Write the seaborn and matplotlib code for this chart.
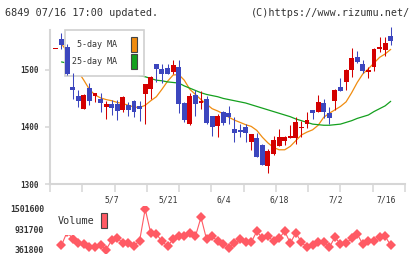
"""
Candlestick chart of 6849 with 5/25-day moving averages and volume
"""

import numpy as np
import pandas as pd
import matplotlib
matplotlib.use("Agg")
import matplotlib.pyplot as plt
from matplotlib.patches import Patch
import seaborn as sns

# Data
dates = ["4/12", "4/15", "4/16", "4/17", "4/18", "4/19", "4/22", "4/23", "4/24", "4/25",
         "4/26", "5/7", "5/8", "5/9", "5/10", "5/13", "5/14", "5/15", "5/16", "5/17",
         "5/20", "5/21", "5/22", "5/23", "5/24", "5/27", "5/28", "5/29", "5/30", "5/31",
         "6/3", "6/4", "6/5", "6/6", "6/7", "6/10", "6/11", "6/12", "6/13", "6/14",
         "6/17", "6/18", "6/19", "6/20", "6/21", "6/24", "6/25", "6/26", "6/27", "6/28",
         "7/1", "7/2", "7/3", "7/4", "7/5", "7/8", "7/9", "7/10", "7/11", "7/12", "7/16"]

opens = [1537, 1555, 1541, 1470, 1454, 1432, 1469, 1455, 1449, 1435,
         1441, 1441, 1429, 1438, 1446, 1436, 1458, 1467, 1511, 1502,
         1504, 1496, 1505, 1442, 1406, 1456, 1442, 1449, 1419, 1402,
         1427, 1424, 1397, 1395, 1400, 1373, 1381, 1369, 1332, 1353,
         1367, 1376, 1380, 1381, 1398, 1406, 1429, 1426, 1442, 1424,
         1446, 1470, 1479, 1499, 1523, 1511, 1497, 1505, 1537, 1535, 1560]
highs = [1537, 1564, 1546, 1495, 1465, 1458, 1477, 1459, 1459, 1446,
         1448, 1448, 1454, 1443, 1448, 1446, 1476, 1490, 1511, 1511,
         1511, 1517, 1518, 1443, 1460, 1464, 1463, 1455, 1420, 1422,
         1428, 1437, 1417, 1405, 1405, 1387, 1390, 1371, 1362, 1384,
         1396, 1384, 1403, 1418, 1411, 1427, 1429, 1456, 1449, 1435,
         1466, 1486, 1501, 1539, 1534, 1518, 1505, 1539, 1557, 1557, 1575]
lows = [1537, 1536, 1491, 1449, 1435, 1431, 1438, 1443, 1427, 1414,
        1421, 1413, 1427, 1419, 1418, 1411, 1405, 1449, 1478, 1477,
        1492, 1493, 1424, 1408, 1404, 1419, 1432, 1406, 1385, 1383,
        1403, 1405, 1373, 1383, 1373, 1360, 1348, 1334, 1320, 1350,
        1367, 1368, 1380, 1371, 1382, 1398, 1414, 1426, 1415, 1406,
        1430, 1463, 1465, 1488, 1513, 1495, 1486, 1498, 1532, 1525, 1544]
closes = [1537, 1544, 1493, 1465, 1446, 1456, 1445, 1459, 1442, 1441,
          1433, 1428, 1452, 1429, 1427, 1432, 1476, 1488, 1501, 1493,
          1492, 1509, 1440, 1413, 1454, 1440, 1445, 1407, 1400, 1420,
          1407, 1417, 1390, 1392, 1390, 1387, 1348, 1334, 1357, 1378,
          1383, 1383, 1385, 1408, 1400, 1413, 1424, 1443, 1426, 1415,
          1465, 1463, 1500, 1521, 1514, 1498, 1499, 1537, 1541, 1548, 1551]

ma5 = [np.nan, 1546, 1532, 1515, 1497, 1482, 1466, 1456, 1451, 1448, 1446,
       1443, 1441, 1438, 1435, 1434, 1438, 1446, 1453, 1466, 1480,
       1491, 1492, 1482, 1466, 1457, 1448, 1440, 1432, 1428, 1423,
       1417, 1412, 1408, 1404, 1401, 1394, 1382, 1372, 1364, 1360,
       1360, 1366, 1376, 1386, 1391, 1395, 1403, 1417, 1424, 1430,
       1436, 1444, 1460, 1478, 1493, 1502, 1512, 1522, 1528, 1536]
ma25 = [np.nan, 1514, 1512, 1510, 1508, 1506, 1504, 1502, 1500, 1498, 1497,
        1495, 1494, 1492, 1491, 1490, 1488, 1485, 1482, 1481, 1479,
        1478, 1477, 1472, 1468, 1464, 1460, 1457, 1455, 1453, 1450,
        1448, 1446, 1444, 1442, 1439, 1436, 1433, 1430, 1427, 1424,
        1421, 1418, 1414, 1411, 1408, 1405, 1404, 1403, 1403, 1404,
        1405, 1408, 1411, 1415, 1418, 1421, 1427, 1432, 1437, 1445]

volume = [np.nan, 480000, 854000, 666000, 545000, 517000, 424000, 441000, 480000, 361800, 621000,
          685000, 545000, 545000, 469000, 609000, 1501600, 818000, 798000, 593000, 452000,
          649000, 733000, 733000, 818000, 733000, 1268000, 649000, 733000, 593000, 525000,
          404000, 536000, 649000, 564000, 564000, 874000, 677000, 733000, 593000, 677000,
          874000, 545000, 826000, 564000, 424000, 480000, 564000, 564000, 424000, 705000,
          517000, 536000, 677000, 798000, 508000, 593000, 593000, 705000, 733000, 480000]

label_dates = ["5/7", "5/21", "6/4", "6/18", "7/2", "7/16"]

# Style
sns.set_theme(style="ticks")
plt.rcParams["font.family"] = ["DejaVu Sans Mono"]

UP = "#d40000"
DOWN = "#3c46be"
ORANGE = "#f08c10"
GREEN = "#14a01e"
VOL = "#ff5a64"
AXIS = "#d6d6d6"
TXT = "#333333"

W, H = 420, 259
XLIM = (-1.06, 62.56)

df = pd.DataFrame({"date": dates, "open": opens, "high": highs, "low": lows,
                   "close": closes, "ma5": ma5, "ma25": ma25, "volume": volume})
df["x"] = np.arange(len(df))
up = df["close"] >= df["open"]
colors = np.where(up, UP, DOWN)

fig = plt.figure(figsize=(W / 100, H / 100), dpi=100)
ax = fig.add_axes([50 / W, 1 - 184 / H, 355 / W, 154 / H])
axv = fig.add_axes([50 / W, 1 - 253 / H, 355 / W, 47 / H])

# Moving averages
sns.lineplot(data=df, x="x", y="ma5", ax=ax, color=ORANGE, linewidth=0.9, zorder=2)
sns.lineplot(data=df, x="x", y="ma25", ax=ax, color=GREEN, linewidth=0.9, zorder=2)

# Candles
lo = np.minimum(df["open"], df["close"])
diff = (df["close"] - df["open"]).abs()
mid = (df["open"] + df["close"]) / 2
body_h = np.maximum(diff, 1.8)
body_bottom = np.where(diff < 1.8, mid - 0.9, lo)
ax.vlines(df["x"], df["low"], df["high"], colors=colors, linewidth=0.75,
          zorder=6, clip_on=False)
ax.bar(df["x"], body_h, bottom=body_bottom, width=0.88, color=colors,
       linewidth=0, zorder=7, clip_on=False)

ax.set_xlim(*XLIM)
ax.set_ylim(1300, 1570)
ax.set_xlabel("")
ax.set_ylabel("")
ax.set_xticks(np.linspace(XLIM[0], XLIM[1], 12))
ax.set_xticklabels([])
label_pos = [dates.index(d) - 0.9 for d in label_dates]
ax.set_xticks(label_pos, minor=True)
ax.set_xticklabels(label_dates, minor=True)
ax.tick_params(axis="x", which="major", length=6, width=1.1, color=AXIS, direction="out")
ax.tick_params(axis="x", which="minor", length=0, pad=8, labelsize=5.8, labelcolor=TXT)
ax.set_yticks([1300, 1400, 1500])
ax.tick_params(axis="y", length=3.6, width=1.1, color=AXIS, pad=4.5,
               labelsize=5.5, labelcolor=TXT)
for t in ax.get_yticklabels():
    t.set_fontweight("bold")
for s in ["top", "right"]:
    ax.spines[s].set_visible(False)
for s in ["left", "bottom"]:
    ax.spines[s].set_color(AXIS)
    ax.spines[s].set_linewidth(1.5)

leg = ax.legend(handles=[Patch(facecolor=ORANGE, edgecolor="#444444", linewidth=0.8, label="5-day MA"),
                         Patch(facecolor=GREEN, edgecolor="#444444", linewidth=0.8, label="25-day MA")],
                loc="upper left", bbox_to_anchor=(65 / W, 1 - 30 / H),
                bbox_transform=fig.transFigure, borderaxespad=0, markerfirst=False,
                fontsize=6, handlelength=0.72, handleheight=2.39, handletextpad=1.7,
                labelspacing=0.2, borderpad=0.85, fancybox=False, framealpha=1,
                edgecolor="#d0d0d0")
leg.get_frame().set_linewidth(1.2)
leg.set_zorder(5)
for t in leg.get_texts():
    t.set_color(TXT)

# Volume
sns.lineplot(data=df, x="x", y="volume", ax=axv, color=VOL, linewidth=0.8,
             marker="D", markersize=4.8, markeredgewidth=0, zorder=2)
vmin, vmax = np.nanmin(volume), np.nanmax(volume)
step = (vmax - vmin) / 40.5
axv.set_xlim(*XLIM)
axv.set_ylim(vmin - 3.5 * step, vmax + 3 * step)
axv.set_xlabel("")
axv.set_ylabel("")
axv.set_xticks([])
vt = [vmin, (vmin + vmax) / 2, vmax]
axv.set_yticks(vt)
axv.set_yticklabels([f"{v:.0f}" for v in vt])
axv.tick_params(axis="y", length=0, pad=4.3, labelsize=5.9, labelcolor=TXT)
for t in axv.get_yticklabels():
    t.set_fontweight("bold")
for s in axv.spines.values():
    s.set_visible(False)
axv.patch.set_alpha(0)

vleg = axv.legend(handles=[Patch(facecolor=VOL, edgecolor="#444444", linewidth=0.8, label="Volume")],
                  loc="upper left", bbox_to_anchor=(50.6 / W, 1 - 205.6 / H),
                  bbox_transform=fig.transFigure, borderaxespad=0, markerfirst=False,
                  fontsize=7.3, handlelength=0.55, handleheight=1.9, handletextpad=0.66,
                  borderpad=0.72, fancybox=False, framealpha=1, edgecolor="none")
vleg.set_zorder(5)
for t in vleg.get_texts():
    t.set_color(TXT)

# Header
fig.text(5 / W, 1 - 13.5 / H, "6849 07/16 17:00 updated.", fontsize=7.3,
         ha="left", va="center", color=TXT)
fig.text(410 / W, 1 - 13.5 / H, "(C)https://www.rizumu.net/", fontsize=7.3,
         ha="right", va="center", color=TXT)

fig.savefig("out.png", dpi=100)
plt.close(fig)
